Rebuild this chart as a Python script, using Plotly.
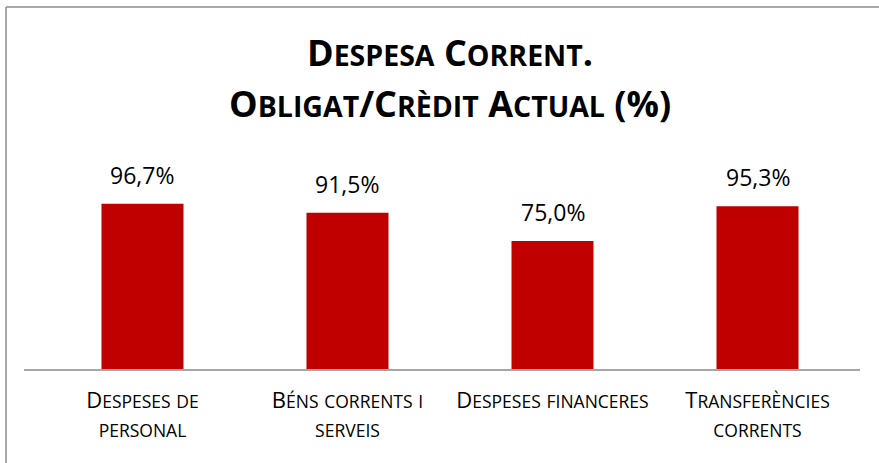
import plotly.graph_objects as go

categories = [
    "Despeses de<br>personal",
    "Béns corrents i<br>serveis",
    "Despeses financeres",
    "Transferències<br>corrents",
]
values = [96.7, 91.5, 75.0, 95.3]
title_lines = ["Despesa Corrent.", "Obligat/Crèdit Actual (%)"]

labels = [f"{v:.1f}".replace(".", ",") + "%" for v in values]

FONT = "Open Sans"


def small_caps(text, small_size):
    # lowercase letters become uppercase at a smaller size, rest unchanged
    out = []
    for part in text.split("<br>"):
        s, run = "", ""
        for ch in part:
            if ch.islower():
                run += ch.upper()
            else:
                if run:
                    s += f'<span style="font-size:{small_size}px">{run}</span>'
                    run = ""
                s += ch
        if run:
            s += f'<span style="font-size:{small_size}px">{run}</span>'
        out.append(s)
    return "<br>".join(out)


fig = go.Figure(
    go.Bar(
        x=list(range(len(categories))),
        y=values,
        marker=dict(color="#C00000", line=dict(width=0)),
        width=0.4,
        hoverinfo="skip",
    )
)

# value labels above each bar
for i, (v, t) in enumerate(zip(values, labels)):
    fig.add_annotation(
        x=i, y=v, text=t, showarrow=False,
        yanchor="bottom", yshift=11,
        font=dict(family=FONT, size=23, color="#000000"),
    )

# two-line title, baselines at 67px and 118px from the top
title_px = [67, 118]
for line, py in zip(title_lines, title_px):
    fig.add_annotation(
        x=0.5096, xref="paper", y=(369 - py) / 205, yref="paper",
        yanchor="bottom", yshift=-12,
        text="<b>" + small_caps(line, 28.5) + "</b>", showarrow=False,
        font=dict(family=FONT, size=36, color="#000000"),
    )

fig.update_layout(
    width=879,
    height=463,
    margin=dict(l=24, r=19, t=164, b=94),
    paper_bgcolor="white",
    plot_bgcolor="white",
    showlegend=False,
    xaxis=dict(
        range=[-0.578, 3.5],
        tickmode="array",
        tickvals=list(range(len(categories))),
        ticktext=[small_caps(c, 17.5) for c in categories],
        tickfont=dict(family=FONT, size=22, color="#000000"),
        showline=True,
        linecolor="#A6A6A6",
        linewidth=2,
        ticks="",
        ticklabelstandoff=11,
        showgrid=False,
        zeroline=False,
    ),
    yaxis=dict(range=[0, 120], visible=False),
    shapes=[
        # outer chart border (left and top edges visible in the crop)
        dict(type="line", xref="paper", yref="paper",
             x0=-0.0215, x1=-0.0215, y0=-1.0, y1=1.7659,
             line=dict(color="#8C8C8C", width=1.5)),
        dict(type="line", xref="paper", yref="paper",
             x0=-0.0215, x1=1.1, y0=1.7659, y1=1.7659,
             line=dict(color="#8C8C8C", width=1.5)),
    ],
)

fig.write_html(
    "out.html",
    config={"displayModeBar": False},
    post_script="document.body.style.margin='0';",
)
